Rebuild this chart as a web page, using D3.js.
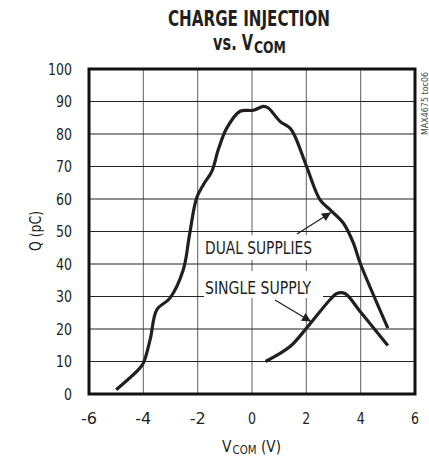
<!DOCTYPE html>
<html><head><meta charset="utf-8">
<script src="https://cdn.jsdelivr.net/npm/d3@7"></script>
<style>
html,body{margin:0;padding:0;background:#fff;}
svg{display:block;}
text{font-family:"Liberation Sans Narrow","DejaVu Sans Condensed","Roboto Condensed",Arial,sans-serif;fill:#231f20;}
</style></head>
<body><svg id="c" width="429" height="457"></svg>
<script>
const xTicks = [-6, -4, -2, 0, 2, 4, 6];
const yTicks = [0, 10, 20, 30, 40, 50, 60, 70, 80, 90, 100];
const dualX = [-5, -4.18, -4.0, -3.75, -3.5, -3.02, -2.53, -2.3, -2.04, -1.79, -1.48, -1.24, -0.93, -0.44, 0.05, 0.42, 0.6, 1.03, 1.4, 1.58, 2.01, 2.5, 2.87, 3.36, 3.73, 3.98, 5.0];
const dualY = [1.3, 7.5, 9.5, 16.7, 26, 29.5, 38.2, 49, 60.3, 64.4, 68.5, 75.2, 81.8, 87, 87.3, 88.5, 88, 83.9, 81.8, 79.3, 70, 59.8, 56.7, 52.6, 46.5, 40.3, 20.3];
const singleX = [0.5, 1.4, 2.01, 2.87, 3.12, 3.42, 3.98, 5.0];
const singleY = [10, 14.6, 20.3, 29, 30.9, 30.9, 25.4, 14.9];
const labels = ["DUAL SUPPLIES", "SINGLE SUPPLY"];

const svg = d3.select("#c");
const L = 89, R = 415, T = 69, B = 394;
const x = d3.scaleLinear().domain([-6, 6]).range([L, R]);
const y = d3.scaleLinear().domain([0, 100]).range([B, T]);

// place a text so its advance spans exactly [x0, x0+w], squeezed horizontally
function fit(str, x0, y0, w, size, bold) {
  const t = svg.append("text").attr("font-size", size).attr("font-weight", bold ? "bold" : null).text(str);
  const n = t.node().getComputedTextLength();
  t.attr("transform", `translate(${x0},${y0}) scale(${w / n},1)`);
  return t;
}

// grid
svg.append("g").selectAll("line").data(xTicks.slice(1, -1)).join("line")
  .attr("x1", d => x(d)).attr("x2", d => x(d)).attr("y1", T).attr("y2", B)
  .attr("stroke", "#6d6d6d").attr("stroke-width", 1.1);
svg.append("g").selectAll("line").data(yTicks.slice(1, -1)).join("line")
  .attr("x1", L).attr("x2", R).attr("y1", d => y(d)).attr("y2", d => y(d))
  .attr("stroke", "#222").attr("stroke-width", 1.1);

// label boxes
svg.append("rect").attr("x", 203).attr("y", 235).attr("width", 111).attr("height", 25).attr("fill", "#fff");
svg.append("rect").attr("x", 204).attr("y", 271).attr("width", 119).attr("height", 27).attr("fill", "#fff");
svg.append("text").attr("x", 205).attr("y", 253.5).attr("font-size", 17.5)
  .attr("textLength", 107).attr("lengthAdjust", "spacingAndGlyphs").text(labels[0]);
svg.append("text").attr("x", 205).attr("y", 294).attr("font-size", 17.5)
  .attr("textLength", 106).attr("lengthAdjust", "spacingAndGlyphs").text(labels[1]);

// curves
const line = d3.line().x(d => x(d[0])).y(d => y(d[1])).curve(d3.curveCatmullRom.alpha(0.5));
svg.append("path").attr("d", line(dualX.map((v, i) => [v, dualY[i]])))
  .attr("fill", "none").attr("stroke", "#231f20").attr("stroke-width", 3.2).attr("stroke-linejoin", "round");
svg.append("path").attr("d", line(singleX.map((v, i) => [v, singleY[i]])))
  .attr("fill", "none").attr("stroke", "#231f20").attr("stroke-width", 3.2).attr("stroke-linejoin", "round");

// arrows
svg.append("defs").append("marker").attr("id", "ah").attr("viewBox", "0 0 10 10")
  .attr("refX", 10).attr("refY", 5).attr("markerWidth", 14).attr("markerHeight", 9)
  .attr("markerUnits", "userSpaceOnUse").attr("orient", "auto")
  .append("path").attr("d", "M0,0L10,5L0,10Z").attr("fill", "#231f20");
svg.append("line").attr("x1", 297).attr("y1", 234).attr("x2", 331).attr("y2", 212.5)
  .attr("stroke", "#231f20").attr("stroke-width", 1.3).attr("marker-end", "url(#ah)");
svg.append("line").attr("x1", 275).attr("y1", 300).attr("x2", 311).attr("y2", 321.5)
  .attr("stroke", "#231f20").attr("stroke-width", 1.3).attr("marker-end", "url(#ah)");

// frame
svg.append("rect").attr("x", L).attr("y", T).attr("width", R - L).attr("height", B - T)
  .attr("fill", "none").attr("stroke", "#111").attr("stroke-width", 3);

// tick labels
svg.append("g").selectAll("text").data(yTicks).join("text")
  .attr("x", 72).attr("y", d => y(d)).attr("dy", "0.36em").attr("text-anchor", "end")
  .attr("font-size", 15.5)
  .attr("textLength", d => String(d).length * 8).attr("lengthAdjust", "spacingAndGlyphs").text(d => d);
svg.append("g").selectAll("text").data(xTicks).join("text")
  .attr("x", d => x(d)).attr("y", 424).attr("text-anchor", "middle")
  .attr("font-size", 15.5)
  .attr("textLength", d => String(d).length * 8).attr("lengthAdjust", "spacingAndGlyphs").text(d => d);

// axis titles
fit("V", 222, 451.5, 9.5, 15.5, false);
fit("COM", 232.5, 453.5, 24, 12, false);
fit("(V)", 261, 451.5, 20, 15.5, false);
svg.append("text").attr("transform", "translate(41,231) rotate(-90)").attr("text-anchor", "middle")
  .attr("font-size", 15.5).attr("textLength", 40).attr("lengthAdjust", "spacingAndGlyphs").text("Q (pC)");

// title
fit("CHARGE INJECTION", 168, 26, 162, 20.5, true);
fit("vs. V", 213, 49.5, 40, 20.5, true);
fit("COM", 254, 52.5, 32, 15, true);

// side note
svg.append("text").attr("transform", "translate(428,72) rotate(-90)").attr("text-anchor", "end")
  .attr("font-size", 9).attr("textLength", 63).attr("lengthAdjust", "spacingAndGlyphs")
  .style("fill", "#444").text("MAX4675 toc06");
</script></body></html>
